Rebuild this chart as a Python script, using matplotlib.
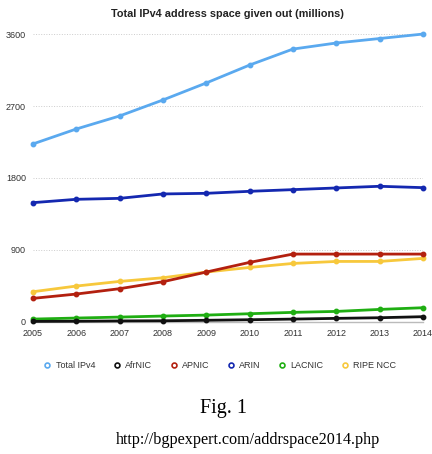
import matplotlib.pyplot as plt

# Data (millions of addresses)
years = [2005, 2006, 2007, 2008, 2009, 2010, 2011, 2012, 2013, 2014]
total_ipv4 = [2225, 2412, 2575, 2775, 2988, 3212, 3412, 3488, 3544, 3600]
afrnic = [6, 8, 12, 14, 20, 27, 35, 44, 52, 65]
apnic = [294, 348, 415, 502, 623, 744, 848, 848, 848, 848]
arin = [1491, 1533, 1545, 1600, 1608, 1633, 1654, 1675, 1696, 1679]
lacnic = [35, 48, 60, 73, 85, 102, 119, 131, 156, 177]
ripe_ncc = [377, 448, 506, 552, 623, 681, 731, 756, 756, 794]
yticks = [0, 900, 1800, 2700, 3600]

series = [
    ('Total IPv4', total_ipv4, '#5aa9ef'),
    ('AfrNIC', afrnic, '#111111'),
    ('APNIC', apnic, '#b3200f'),
    ('ARIN', arin, '#1428b0'),
    ('LACNIC', lacnic, '#1fae12'),
    ('RIPE NCC', ripe_ncc, '#f7c83c'),
]
# draw order: RIPE under APNIC, LACNIC under AfrNIC
zorders = {'Total IPv4': 3, 'AfrNIC': 5, 'APNIC': 5, 'ARIN': 4, 'LACNIC': 4, 'RIPE NCC': 4}

plt.rcParams['font.family'] = ['Liberation Sans', 'DejaVu Sans']

fig = plt.figure(figsize=(4.32, 4.54), dpi=100)
ax = fig.add_axes([0.076, 0.291, 0.903, 0.634])

for name, vals, color in series:
    ax.plot(years, vals, color=color, linewidth=2.0, marker='o', markersize=3.2,
            clip_on=False, zorder=zorders[name])

ax.set_xlim(years[0], years[-1])
ax.set_ylim(0, 3600)
ax.set_xticks(years)
ax.set_yticks(yticks)
ax.tick_params(axis='both', length=0, labelsize=6.5, colors='#333333')
ax.tick_params(axis='x', pad=5)
ax.tick_params(axis='y', pad=5)
for s in ['top', 'right', 'left']:
    ax.spines[s].set_visible(False)
ax.spines['bottom'].set_color('#bbbbbb')
ax.spines['bottom'].set_linewidth(1.0)
ax.grid(axis='y', color='#cccccc', linestyle=':', linewidth=0.7)
ax.set_axisbelow(True)

ax.set_title('Total IPv4 address space given out (millions)', fontsize=7.8,
             fontweight='bold', color='#222222', pad=12)

# legend row with open circle markers
handles = [plt.Line2D([], [], linestyle='none', marker='o', markersize=3.5,
                      markerfacecolor='none', markeredgecolor=c, markeredgewidth=1.2)
           for _, _, c in series]
fig.legend(handles, [n for n, _, _ in series], loc='center',
           bbox_to_anchor=(0.508, 0.194), ncol=6, frameon=False, fontsize=6.5,
           handletextpad=0.4, columnspacing=1.9, handlelength=1.0,
           labelcolor='#333333')

fig.text(0.518, 0.101, 'Fig. 1', family='Liberation Serif', fontsize=14.5,
         ha='center', va='center')
fig.text(0.574, 0.031, 'http://bgpexpert.com/addrspace2014.php',
         family='Liberation Serif', fontsize=11.6, ha='center', va='center')

fig.savefig('out.png', dpi=100)
